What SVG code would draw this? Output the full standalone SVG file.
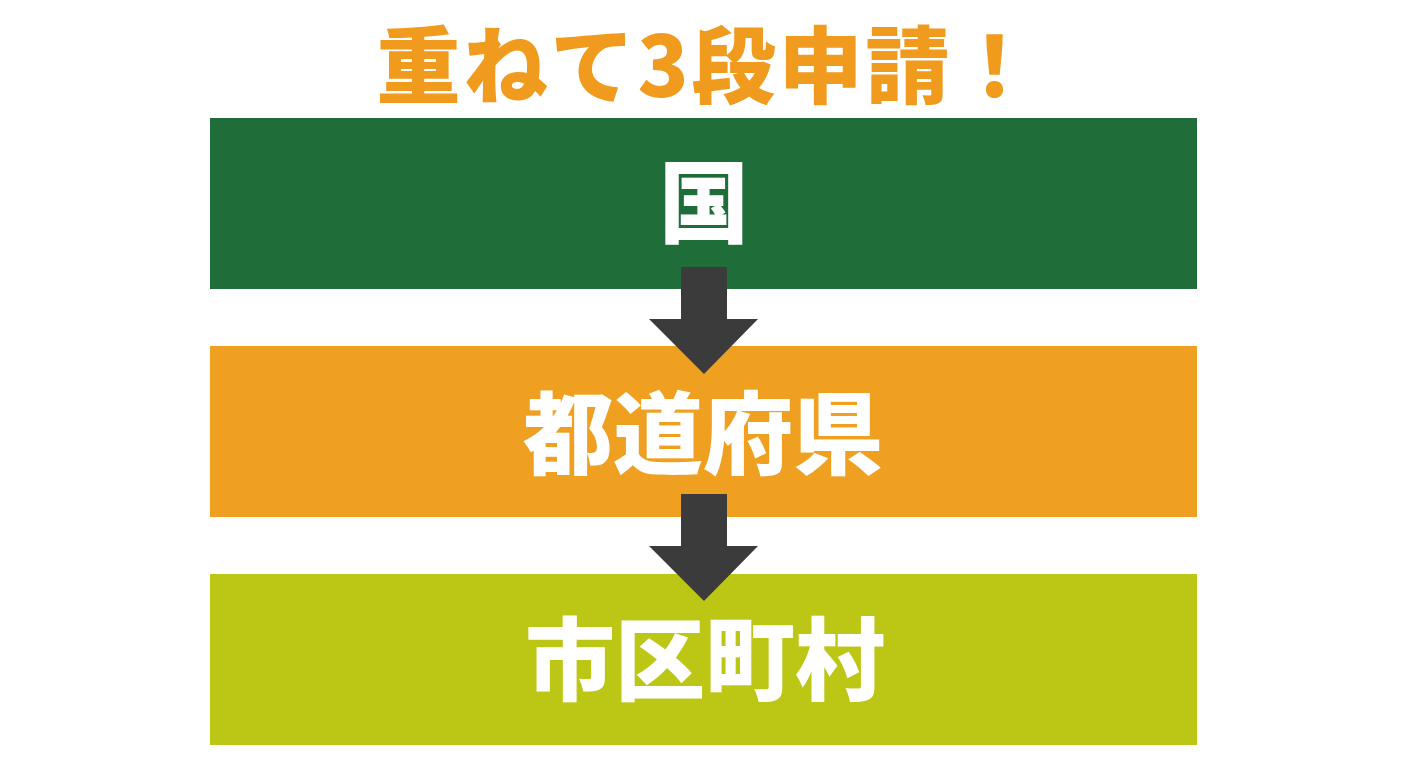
<svg xmlns="http://www.w3.org/2000/svg" width="1408" height="768" viewBox="0 0 1408 768">
  <style>
    .lbl { font-family: "Noto Sans CJK JP", "Noto Sans CJK SC", sans-serif; font-weight: 900; fill: #ffffff; text-anchor: middle; dominant-baseline: central; font-size: 90px; }
    .title { font-family: "Noto Sans CJK JP", "Noto Sans CJK SC", sans-serif; font-weight: 900; fill: #F09A1E; text-anchor: middle; dominant-baseline: central; font-size: 84px; letter-spacing: 3px; }
    .arrow { fill: #3B3B3B; }
  </style>
  <rect width="1408" height="768" fill="#ffffff"/>
  <g id="title">
    <text class="title" x="708" y="60">重ねて3段申請！</text>
  </g>
  <g id="node-kuni">
    <rect x="210" y="118" width="987" height="171" fill="#1F6E3A"/>
    <text class="lbl" x="704" y="197">国</text>
  </g>
  <g id="node-todofuken">
    <rect x="210" y="346" width="987" height="171" fill="#F0A020"/>
    <text class="lbl" x="703" y="428">都道府県</text>
  </g>
  <g id="node-shikuchoson">
    <rect x="210" y="574" width="987" height="171" fill="#BCC614"/>
    <text class="lbl" x="705" y="654">市区町村</text>
  </g>
  <g id="connectors">
    <polygon class="arrow" points="681,267 727,267 727,319 758,319 704,374 649,319 681,319"/>
    <polygon class="arrow" points="681,494 727,494 727,546 758,546 704,601 649,546 681,546"/>
  </g>
</svg>
